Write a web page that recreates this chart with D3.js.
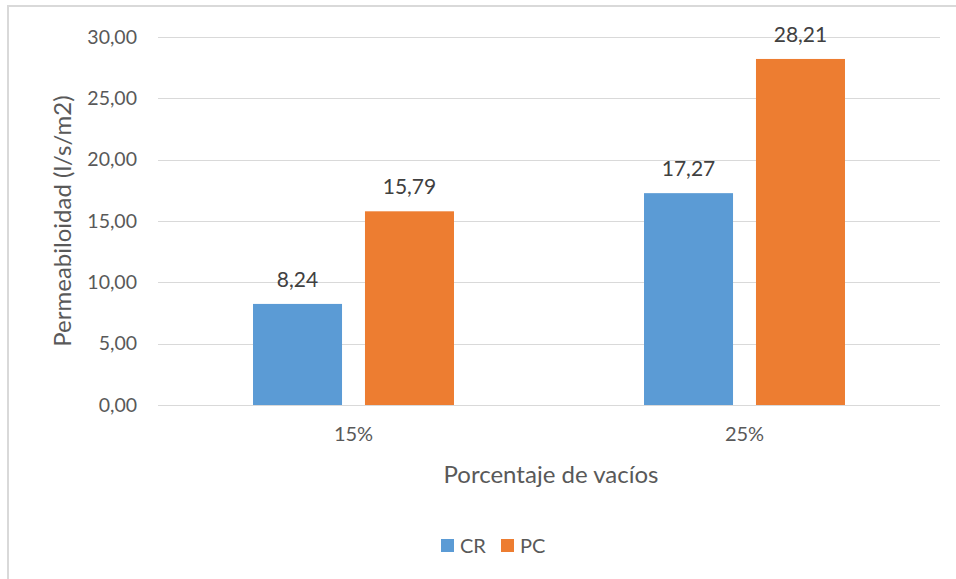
<!DOCTYPE html>
<html>
<head>
<meta charset="utf-8">
<script src="https://cdn.jsdelivr.net/npm/d3@7"></script>
<style>
  body { margin: 0; background: #fff; }
  svg { display: block; font-family: Lato, "Open Sans", sans-serif; }
</style>
</head>
<body>
<svg width="956" height="579"></svg>
<script>
var categories = ['15%', '25%'];
var series = ['CR', 'PC'];
var crValues = [8.24, 17.27];
var pcValues = [15.79, 28.21];
var yTicks = [0, 5, 10, 15, 20, 25, 30];
var colors = { CR: '#5b9bd5', PC: '#ed7d31' };

var rows = categories.map(function(c, i) {
  return { cat: c, CR: crValues[i], PC: pcValues[i] };
});

var svg = d3.select('svg');
var fmt = function(v) { return d3.format('.2f')(v).replace('.', ','); };

// outer frame
svg.append('rect')
  .attr('x', 8).attr('y', 6)
  .attr('width', 960).attr('height', 580)
  .attr('fill', 'none')
  .attr('stroke', '#d9d9d9')
  .attr('stroke-width', 2);

var plotLeft = 158, plotRight = 940, plotTop = 37, plotBottom = 405;

var y = d3.scaleLinear().domain([0, 30]).range([plotBottom, plotTop]);
var x0 = d3.scaleBand().domain(categories).range([plotLeft, plotRight])
  .paddingInner(0.486).paddingOuter(0.243);
var x1 = d3.scaleBand().domain(series).range([0, x0.bandwidth()])
  .paddingInner(0.205);

// gridlines
svg.append('g')
  .selectAll('line')
  .data(yTicks)
  .enter()
    .append('line')
      .attr('x1', plotLeft).attr('x2', plotRight)
      .attr('y1', function(d) { return Math.round(y(d)) + 0.5; })
      .attr('y2', function(d) { return Math.round(y(d)) + 0.5; })
      .attr('stroke', '#d9d9d9')
      .attr('stroke-width', 1);

// y axis labels
var yAxis = svg.append('g')
  .attr('transform', 'translate(' + (plotLeft - 21) + ',0)')
  .call(d3.axisLeft(y).tickValues(yTicks).tickFormat(fmt).tickSize(0).tickPadding(0));
yAxis.select('.domain').remove();
yAxis.selectAll('text')
  .attr('fill', '#595959')
  .style('font-size', '19.5px')
  .style('font-family', 'Lato, sans-serif');

// x axis labels
var xAxis = svg.append('g')
  .attr('transform', 'translate(0,' + plotBottom + ')')
  .call(d3.axisBottom(x0).tickSize(0).tickPadding(22));
xAxis.select('.domain').remove();
xAxis.selectAll('text')
  .attr('fill', '#595959')
  .style('font-size', '20px')
  .style('font-family', 'Lato, sans-serif');

// bars
var groups = svg.selectAll('g.cat')
  .data(rows)
  .enter()
    .append('g')
      .attr('class', 'cat')
      .attr('transform', function(d) { return 'translate(' + x0(d.cat) + ',0)'; });

groups.selectAll('rect')
  .data(function(d) { return series.map(function(s) { return { key: s, value: d[s] }; }); })
  .enter()
    .append('rect')
      .attr('x', function(d) { return x1(d.key); })
      .attr('width', x1.bandwidth())
      .attr('y', function(d) { return y(d.value); })
      .attr('height', function(d) { return plotBottom - y(d.value); })
      .attr('fill', function(d) { return colors[d.key]; });

groups.selectAll('text')
  .data(function(d) { return series.map(function(s) { return { key: s, value: d[s] }; }); })
  .enter()
    .append('text')
      .attr('x', function(d) { return x1(d.key) + x1.bandwidth() / 2; })
      .attr('y', function(d) { return y(d.value) - 17; })
      .attr('text-anchor', 'middle')
      .attr('fill', '#404040')
      .style('font-size', '21px')
      .text(function(d) { return fmt(d.value); });

// axis titles
svg.append('text')
  .attr('transform', 'translate(71,' + ((plotTop + plotBottom) / 2) + ') rotate(-90)')
  .attr('text-anchor', 'middle')
  .attr('fill', '#595959')
  .style('font-size', '24px')
  .text('Permeabiloidad (l/s/m2)');

svg.append('text')
  .attr('x', (plotLeft + plotRight) / 2 + 2)
  .attr('y', 483)
  .attr('text-anchor', 'middle')
  .attr('fill', '#595959')
  .style('font-size', '24px')
  .text('Porcentaje de vacíos');

// legend
var legend = svg.append('g')
  .attr('transform', 'translate(441,539)');
var items = legend.selectAll('g')
  .data(series)
  .enter()
    .append('g')
      .attr('transform', function(d, i) { return 'translate(' + (i * 60) + ',0)'; });
items.append('rect')
  .attr('width', 13).attr('height', 13)
  .attr('fill', function(d) { return colors[d]; });
items.append('text')
  .attr('x', 19).attr('y', 14)
  .attr('fill', '#595959')
  .style('font-size', '20px')
  .text(function(d) { return d; });
</script>
</body>
</html>
